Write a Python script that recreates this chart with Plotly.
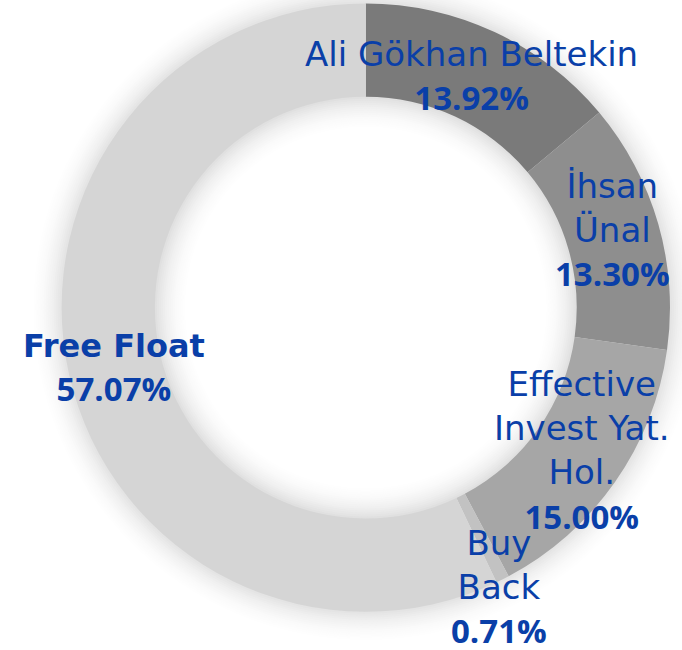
import math

import plotly.graph_objects as go

# 股东结构
holders = ["Ali Gökhan Beltekin", "İhsan Ünal", "Effective Invest Yat. Hol.", "Buy Back", "Free Float"]
label_lines = [
    ["Ali Gökhan Beltekin"],
    ["İhsan", "Ünal"],
    ["Effective", "Invest Yat.", "Hol."],
    ["Buy", "Back"],
    ["Free Float"],
]
shares = [13.92, 13.30, 15.00, 0.71, 57.07]

# styling
slice_colors = ["#7a7a7a", "#8e8e8e", "#a6a6a6", "#c2c2c2", "#d5d5d5"]
bold_name = [False, False, False, False, True]
label_radius = [254, 258, 260, 310, 259]  # px from centre
label_turn = [-0.5, -1.4, -1.3, 1.3, -0.9]  # deg, nudge off the slice mid-angle
_BLUE = "#0a3fa8"
_W, _H = 682, 650
_CX, _CY = 365.8, 307.6
_R_OUT, _R_IN = 304.2, 210.9
_GLOW_PX = 34
_GLOW_STEP = 2
_GLOW_EDGE = 224  # grey level right at the ring edge


def _domain(radius):
    return dict(
        x=[(_CX - radius) / _W, (_CX + radius) / _W],
        y=[1 - (_CY + radius) / _H, 1 - (_CY - radius) / _H],
    )


def _disk(radius, grey):
    g = int(round(grey))
    return dict(
        type="circle",
        xref="paper",
        yref="paper",
        x0=(_CX - radius) / _W,
        x1=(_CX + radius) / _W,
        y0=1 - (_CY + radius) / _H,
        y1=1 - (_CY - radius) / _H,
        fillcolor=f"rgb({g},{g},{g})",
        line=dict(width=0),
        layer="below",
    )


def _grey_at(dist):
    # 距离环边 dist px 处的灰度，平方淡出
    t = min(max(dist / _GLOW_PX, 0), 1)
    return 255 - (255 - _GLOW_EDGE) * (1 - t) ** 2


shapes = []
# outer glow: big disks first
for d in range(_GLOW_PX, 0, -_GLOW_STEP):
    shapes.append(_disk(_R_OUT + d, _grey_at(d)))
# inner glow inside the hole
shapes.append(_disk(_R_IN + 1, _grey_at(0)))
for d in range(_GLOW_STEP, _GLOW_PX + 1, _GLOW_STEP):
    shapes.append(_disk(_R_IN - d, _grey_at(d)))

fig = go.Figure()
fig.add_trace(
    go.Pie(
        labels=holders,
        values=shares,
        hole=_R_IN / _R_OUT,
        domain=_domain(_R_OUT),
        sort=False,
        direction="clockwise",
        rotation=0,
        marker=dict(colors=slice_colors, line=dict(width=0)),
        textinfo="none",
        hovertemplate="%{label}<br>%{value:.2f}%<extra></extra>",
        showlegend=False,
    )
)

# labels at mid-angle of each slice
total = sum(shares)
cum = 0.0
for lines, v, r, turn, bold in zip(label_lines, shares, label_radius, label_turn, bold_name):
    theta = math.radians(360 * (cum + v / 2) / total + turn)
    cum += v
    x_px = _CX + r * math.sin(theta)
    y_px = _CY - r * math.cos(theta)
    if bold:
        name = "<br>".join(f"<span style='font-size:32px'><b>{ln}</b></span>" for ln in lines)
    else:
        name = "<br>".join(lines)
    pct = f"<span style='font-family:Open Sans;font-size:33px'><b>{v:.2f}%</b></span>"
    fig.add_annotation(
        x=x_px / _W,
        y=1 - y_px / _H,
        xref="paper",
        yref="paper",
        text=f"{name}<br>{pct}",
        showarrow=False,
        xanchor="center",
        yanchor="middle",
        align="center",
        font=dict(family="DejaVu Sans", size=34, color=_BLUE),
    )

fig.update_layout(
    width=_W,
    height=_H,
    margin=dict(l=0, r=0, t=0, b=0),
    paper_bgcolor="white",
    plot_bgcolor="white",
    showlegend=False,
    shapes=shapes,
)

# 去掉浏览器默认的 body 边距，让图贴齐窗口左上角
fig.write_html(
    "out.html",
    config={"displayModeBar": False, "displaylogo": False},
    post_script="document.body.style.margin='0';",
)
